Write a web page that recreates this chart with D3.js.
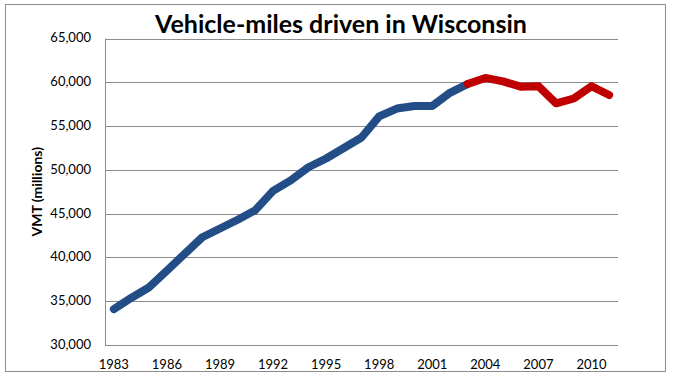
<!DOCTYPE html>
<html><head><meta charset="utf-8">
<script src="https://cdn.jsdelivr.net/npm/d3@7"></script>
<style>body{margin:0;background:#fff}svg{display:block}text{font-family:Lato,"Open Sans",sans-serif}</style>
</head><body>
<svg id="c" width="676" height="381"></svg>
<script>
const years = d3.range(1983, 2012);
const vmt = [34100, 35400, 36600, 38500, 40400, 42300, 43300, 44300, 45400, 47600, 48800, 50300, 51300, 52500, 53700, 56100, 57000, 57300, 57300, 58800, 59800, 60500, 60100, 59500, 59550, 57600, 58150, 59550, 58550];
const splitYear = 2003;
const yTicks = [30000, 35000, 40000, 45000, 50000, 55000, 60000, 65000];
const xTickLabels = [1983, 1986, 1989, 1992, 1995, 1998, 2001, 2004, 2007, 2010];
const title = "Vehicle-miles driven in Wisconsin";
const yTitle = "VMT (millions)";

const svg = d3.select("#c");
const L = 105, R = 618, T = 38.5, B = 345;
svg.append("rect").attr("x",5.5).attr("y",4.5).attr("width",660).attr("height",367)
  .attr("fill","#fff").attr("stroke","#8c8c8c").attr("stroke-width",1);

const x = d3.scaleBand().domain(years).range([L, R]);
const y = d3.scaleLinear().domain([30000, 65000]).range([B, T]);
const cx = d => x(d) + x.bandwidth()/2;

svg.append("g").selectAll("line").data(yTicks).join("line")
  .attr("x1", L).attr("x2", R).attr("y1", d=>Math.round(y(d))+0.5).attr("y2", d=>Math.round(y(d))+0.5)
  .attr("stroke","#8c8c8c").attr("stroke-width",1);
svg.append("line").attr("x1",L+0.5).attr("x2",L+0.5).attr("y1",T).attr("y2",B+1).attr("stroke","#8c8c8c");

const fmt = d3.format(",");
svg.append("g").selectAll("text").data(yTicks).join("text")
  .attr("x", 91).attr("y", d=>y(d)).attr("dy","0.3em").attr("text-anchor","end")
  .attr("font-size",13).attr("fill","#000").text(d=>fmt(d));

svg.append("g").selectAll("text").data(xTickLabels).join("text")
  .attr("x", d=>cx(d)).attr("y", 369).attr("text-anchor","middle")
  .attr("font-size",13).attr("fill","#000").text(d=>d);

svg.append("text").attr("transform",`translate(42,${(T+B)/2}) rotate(-90)`)
  .attr("text-anchor","middle").attr("font-size",14).attr("font-weight","bold").text(yTitle);

svg.append("text").attr("x",341).attr("y",33).attr("text-anchor","middle")
  .attr("font-size",25).attr("font-weight","bold").text(title);

const data = years.map((yr,i)=>({yr, v: vmt[i]}));
const line = d3.line().x(d=>cx(d.yr)).y(d=>y(d.v));
svg.append("path").datum(data.filter(d=>d.yr<=splitYear)).attr("d",line)
  .attr("fill","none").attr("stroke","#234d87").attr("stroke-width",8)
  .attr("stroke-linejoin","round").attr("stroke-linecap","round");
svg.append("path").datum(data.filter(d=>d.yr>=splitYear)).attr("d",line)
  .attr("fill","none").attr("stroke","#c00000").attr("stroke-width",8)
  .attr("stroke-linejoin","round").attr("stroke-linecap","round");
</script>
</body></html>
